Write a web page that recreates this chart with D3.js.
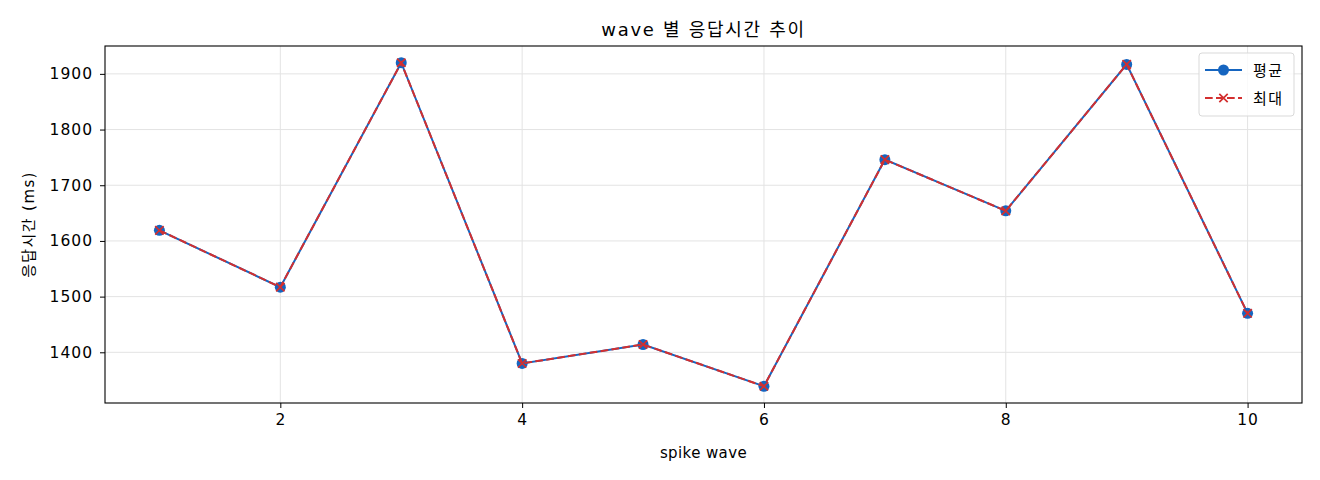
<!DOCTYPE html>
<html>
<head>
<meta charset="utf-8">
<script src="https://cdn.jsdelivr.net/npm/d3@7"></script>
<style>
  body { margin: 0; background: #fff; }
  text { font-family: "DejaVu Sans", "Noto Sans CJK KR", sans-serif; fill: #000; }
</style>
</head>
<body>
<div id="chart"></div>
<script>
// data
let waves = [1, 2, 3, 4, 5, 6, 7, 8, 9, 10];
let avgMs = [1619, 1517, 1920, 1380, 1414, 1339, 1746, 1654, 1917, 1470];
let maxMs = [1619, 1517, 1920, 1380, 1414, 1339, 1746, 1654, 1917, 1470];
let xTicks = [2, 4, 6, 8, 10];
let yTicks = [1400, 1500, 1600, 1700, 1800, 1900];

let width = 1320, height = 480;
let margin = { top: 46, right: 18, bottom: 77, left: 105 };
let w = width - margin.left - margin.right;
let h = height - margin.top - margin.bottom;

let x = d3.scaleLinear().domain([0.55, 10.45]).range([0, w]);
let y = d3.scaleLinear().domain([1308.95, 1950.05]).range([h, 0]);

let svg = d3.select('#chart').append('svg')
    .attr('width', width).attr('height', height);

let g = svg.append('g')
    .attr('transform', "translate(" + margin.left + "," + margin.top + ")");

// grid
g.selectAll('.gx').data(xTicks).enter().append('line')
    .attr('x1', d => x(d)).attr('x2', d => x(d))
    .attr('y1', 0).attr('y2', h)
    .attr('stroke', '#e3e3e3').attr('stroke-width', 1);
g.selectAll('.gy').data(yTicks).enter().append('line')
    .attr('x1', 0).attr('x2', w)
    .attr('y1', d => y(d)).attr('y2', d => y(d))
    .attr('stroke', '#e3e3e3').attr('stroke-width', 1);

// axes
let xAxis = g.append('g')
    .attr('transform', "translate(0," + h + ")")
    .call(d3.axisBottom(x).tickValues(xTicks).tickSize(5).tickPadding(6).tickFormat(d3.format('d')));
let yAxis = g.append('g')
    .call(d3.axisLeft(y).tickValues(yTicks).tickSize(5).tickPadding(7).tickFormat(d3.format('d')));
[xAxis, yAxis].forEach(a => {
    a.select('.domain').remove();
    a.selectAll('text').style('font-size', '15.5px').style('letter-spacing', '1px').attr('fill', '#000');
    a.selectAll('line').attr('stroke', '#000');
});

// frame
g.append('rect').attr('width', w).attr('height', h)
    .attr('fill', 'none').attr('stroke', '#000').attr('stroke-width', 1.1);

let pts = waves.map((d, i) => ({ x: d, avg: avgMs[i], max: maxMs[i] }));

let blue = '#1565c0', red = '#d32f2f';

// avg line
g.append('path').datum(pts)
    .attr('fill', 'none').attr('stroke', blue).attr('stroke-width', 2)
    .attr('d', d3.line().x(d => x(d.x)).y(d => y(d.avg)));
g.selectAll('.dot').data(pts).enter().append('circle')
    .attr('cx', d => x(d.x)).attr('cy', d => y(d.avg)).attr('r', 5.5)
    .attr('fill', blue);

// max line
g.append('path').datum(pts)
    .attr('fill', 'none').attr('stroke', red).attr('stroke-width', 2)
    .attr('stroke-dasharray', '7.7,3.3')
    .attr('d', d3.line().x(d => x(d.x)).y(d => y(d.max)));
let cross = s => 'M ' + (-s) + ' ' + (-s) + ' L ' + s + ' ' + s + ' M ' + (-s) + ' ' + s + ' L ' + s + ' ' + (-s);
g.selectAll('.xm').data(pts).enter().append('path')
    .attr('transform', d => "translate(" + x(d.x) + "," + y(d.max) + ")")
    .attr('d', cross(4.2))
    .attr('stroke', red).attr('stroke-width', 1.7).attr('fill', 'none');

// titles
svg.append('text').attr('x', margin.left + w / 2).attr('y', 36)
    .attr('text-anchor', 'middle').style('font-size', '18px').style('letter-spacing', '1.7px')
    .text('wave 별 응답시간 추이');
svg.append('text').attr('x', margin.left + w / 2).attr('y', 458)
    .attr('text-anchor', 'middle').style('font-size', '15px').style('letter-spacing', '0.4px')
    .text('spike wave');
svg.append('text')
    .attr('transform', "translate(34," + (margin.top + h / 2) + ") rotate(-90)")
    .attr('text-anchor', 'middle').style('font-size', '15px').style('letter-spacing', '1.4px')
    .text('응답시간 (ms)');

// legend
let lg = g.append('g').attr('transform', "translate(" + (w - 103) + ",7)");
lg.append('rect').attr('width', 95).attr('height', 63).attr('rx', 3)
    .attr('fill', '#fff').attr('fill-opacity', 0.8)
    .attr('stroke', '#d9d9d9');
lg.append('line').attr('x1', 6).attr('x2', 43).attr('y1', 17).attr('y2', 17)
    .attr('stroke', blue).attr('stroke-width', 2);
lg.append('circle').attr('cx', 24.5).attr('cy', 17).attr('r', 5.5).attr('fill', blue);
lg.append('text').attr('x', 54).attr('y', 23).style('font-size', '15px').style('letter-spacing', '1.5px').text('평균');
lg.append('line').attr('x1', 6).attr('x2', 43).attr('y1', 45).attr('y2', 45)
    .attr('stroke', red).attr('stroke-width', 2).attr('stroke-dasharray', '7.7,3.3');
lg.append('path').attr('transform', 'translate(24.5,45)').attr('d', cross(4.2))
    .attr('stroke', red).attr('stroke-width', 1.7).attr('fill', 'none');
lg.append('text').attr('x', 54).attr('y', 51).style('font-size', '15px').style('letter-spacing', '1.5px').text('최대');
</script>
</body>
</html>
